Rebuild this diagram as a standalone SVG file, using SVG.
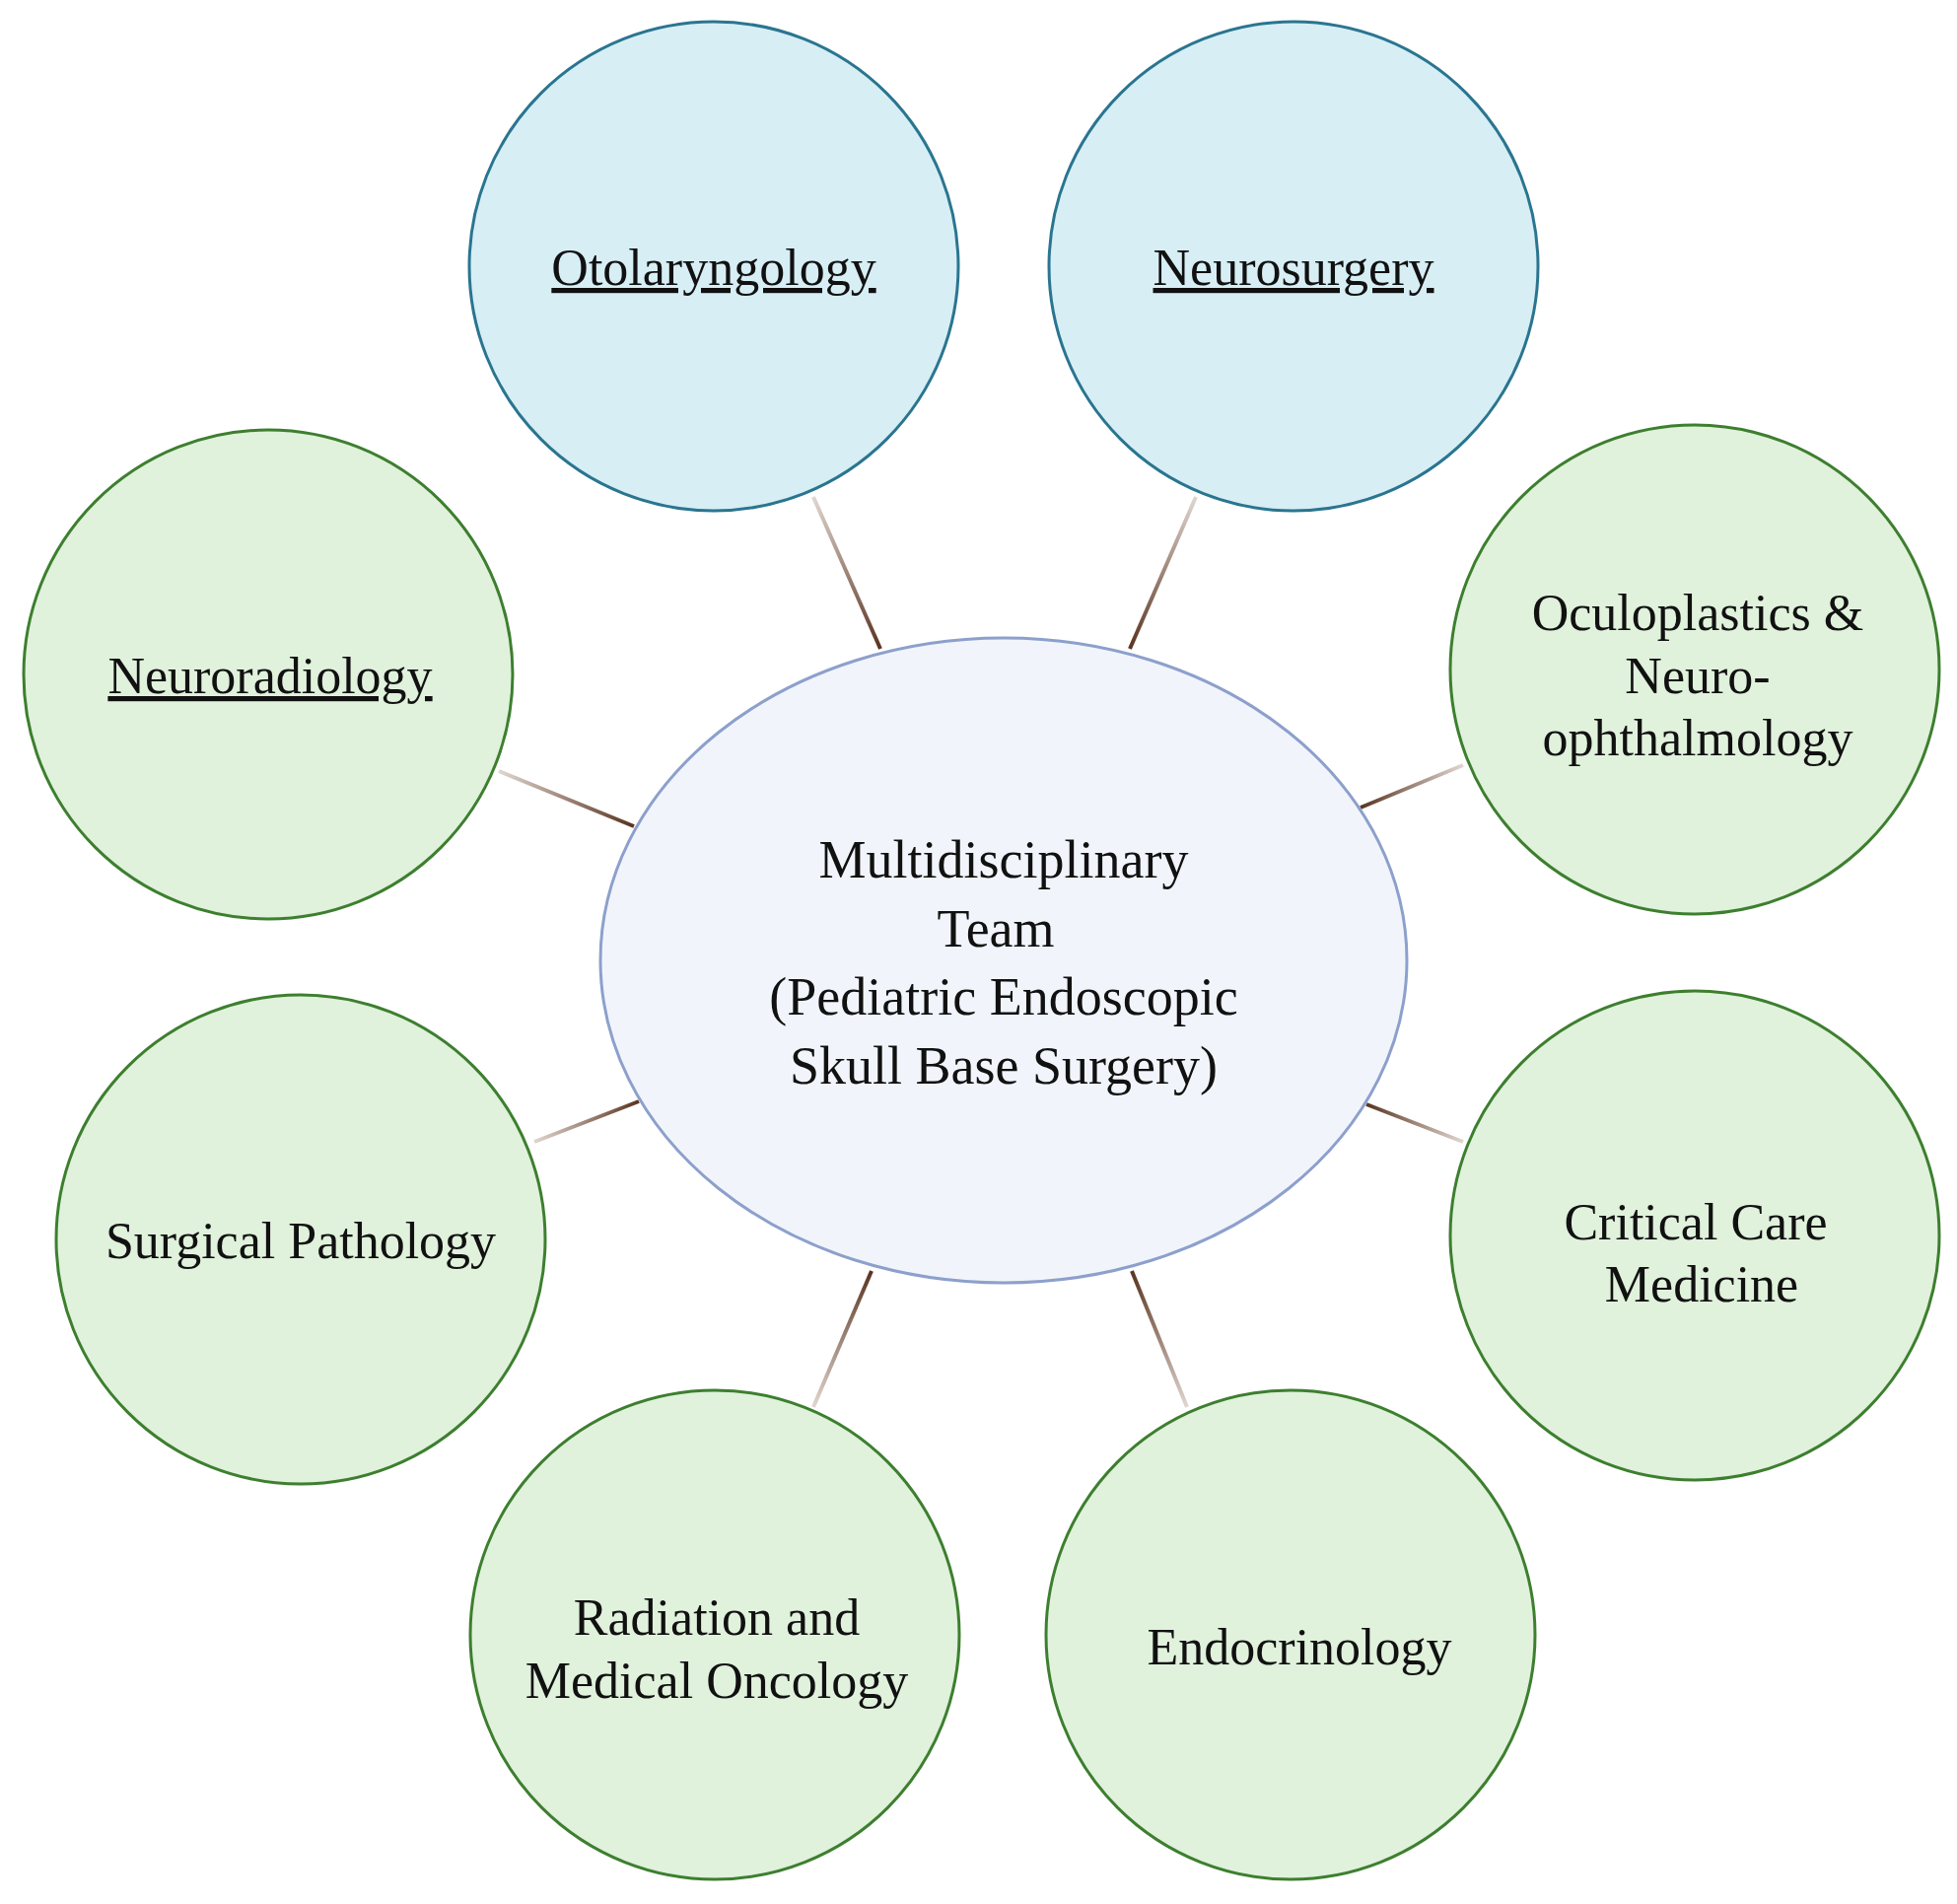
<svg xmlns="http://www.w3.org/2000/svg" width="1985" height="1931" viewBox="0 0 1985 1931">
<style>
.b{fill:#d7eef5;stroke:#2a7590;stroke-width:3}
.g{fill:#e0f1dc;stroke:#3d7f2f;stroke-width:3}
.c{fill:#f1f5fb;stroke:#8da0cc;stroke-width:3}
text{font-family:"Liberation Serif",serif;font-size:52px;fill:#111;text-anchor:middle}
.u{text-decoration:underline}
.m{font-size:54px}
line{stroke-width:4}
</style>
<defs>
<linearGradient id="l1" gradientUnits="userSpaceOnUse" x1="825" y1="504" x2="893" y2="658"><stop offset="0" stop-color="#e0d6d0"/><stop offset="1" stop-color="#5a3420"/></linearGradient>
<linearGradient id="l2" gradientUnits="userSpaceOnUse" x1="1213" y1="504" x2="1146" y2="658"><stop offset="0" stop-color="#e0d6d0"/><stop offset="1" stop-color="#5a3420"/></linearGradient>
<linearGradient id="l3" gradientUnits="userSpaceOnUse" x1="506" y1="782" x2="643" y2="838"><stop offset="0" stop-color="#e0d6d0"/><stop offset="1" stop-color="#5a3420"/></linearGradient>
<linearGradient id="l4" gradientUnits="userSpaceOnUse" x1="1484" y1="776" x2="1380" y2="819"><stop offset="0" stop-color="#e0d6d0"/><stop offset="1" stop-color="#5a3420"/></linearGradient>
<linearGradient id="l5" gradientUnits="userSpaceOnUse" x1="542" y1="1158" x2="648" y2="1117"><stop offset="0" stop-color="#e0d6d0"/><stop offset="1" stop-color="#5a3420"/></linearGradient>
<linearGradient id="l6" gradientUnits="userSpaceOnUse" x1="1484" y1="1158" x2="1386" y2="1120"><stop offset="0" stop-color="#e0d6d0"/><stop offset="1" stop-color="#5a3420"/></linearGradient>
<linearGradient id="l7" gradientUnits="userSpaceOnUse" x1="825" y1="1427" x2="884" y2="1289"><stop offset="0" stop-color="#e0d6d0"/><stop offset="1" stop-color="#5a3420"/></linearGradient>
<linearGradient id="l8" gradientUnits="userSpaceOnUse" x1="1204" y1="1427" x2="1148" y2="1289"><stop offset="0" stop-color="#e0d6d0"/><stop offset="1" stop-color="#5a3420"/></linearGradient>
</defs>
<rect width="1985" height="1931" fill="#fff"/>
<g id="connectors">
<line x1="825" y1="504" x2="893" y2="658" stroke="url(#l1)"/>
<line x1="1213" y1="504" x2="1146" y2="658" stroke="url(#l2)"/>
<line x1="506" y1="782" x2="643" y2="838" stroke="url(#l3)"/>
<line x1="1484" y1="776" x2="1380" y2="819" stroke="url(#l4)"/>
<line x1="542" y1="1158" x2="648" y2="1117" stroke="url(#l5)"/>
<line x1="1484" y1="1158" x2="1386" y2="1120" stroke="url(#l6)"/>
<line x1="825" y1="1427" x2="884" y2="1289" stroke="url(#l7)"/>
<line x1="1204" y1="1427" x2="1148" y2="1289" stroke="url(#l8)"/>
</g>
<g id="center"><ellipse class="c" cx="1018" cy="974" rx="409" ry="327"/>
<text class="m" x="1018" y="890">Multidisciplinary</text>
<text class="m" x="1010" y="960">Team</text>
<text class="m" x="1018" y="1029">(Pediatric Endoscopic</text>
<text class="m" x="1018" y="1099">Skull Base Surgery)</text></g>
<g id="otolaryngology"><circle class="b" cx="724" cy="270" r="248"/><text class="u" x="724" y="289">Otolaryngology</text></g>
<g id="neurosurgery"><circle class="b" cx="1312" cy="270" r="248"/><text class="u" x="1312" y="289">Neurosurgery</text></g>
<g id="neuroradiology"><circle class="g" cx="272" cy="684" r="248"/><text class="u" x="274" y="703">Neuroradiology</text></g>
<g id="oculoplastics"><circle class="g" cx="1719" cy="679" r="248"/>
<text x="1722" y="639">Oculoplastics &amp;</text><text x="1722" y="703">Neuro-</text><text x="1722" y="766">ophthalmology</text></g>
<g id="pathology"><circle class="g" cx="305" cy="1257" r="248"/><text x="305" y="1276">Surgical Pathology</text></g>
<g id="critical"><circle class="g" cx="1719" cy="1253" r="248"/><text x="1720" y="1257">Critical Care</text><text x="1726" y="1320">Medicine</text></g>
<g id="radiation"><circle class="g" cx="725" cy="1658" r="248"/><text x="727" y="1658">Radiation and</text><text x="727" y="1722">Medical Oncology</text></g>
<g id="endocrinology"><circle class="g" cx="1309" cy="1658" r="248"/><text x="1318" y="1688">Endocrinology</text></g>
</svg>
